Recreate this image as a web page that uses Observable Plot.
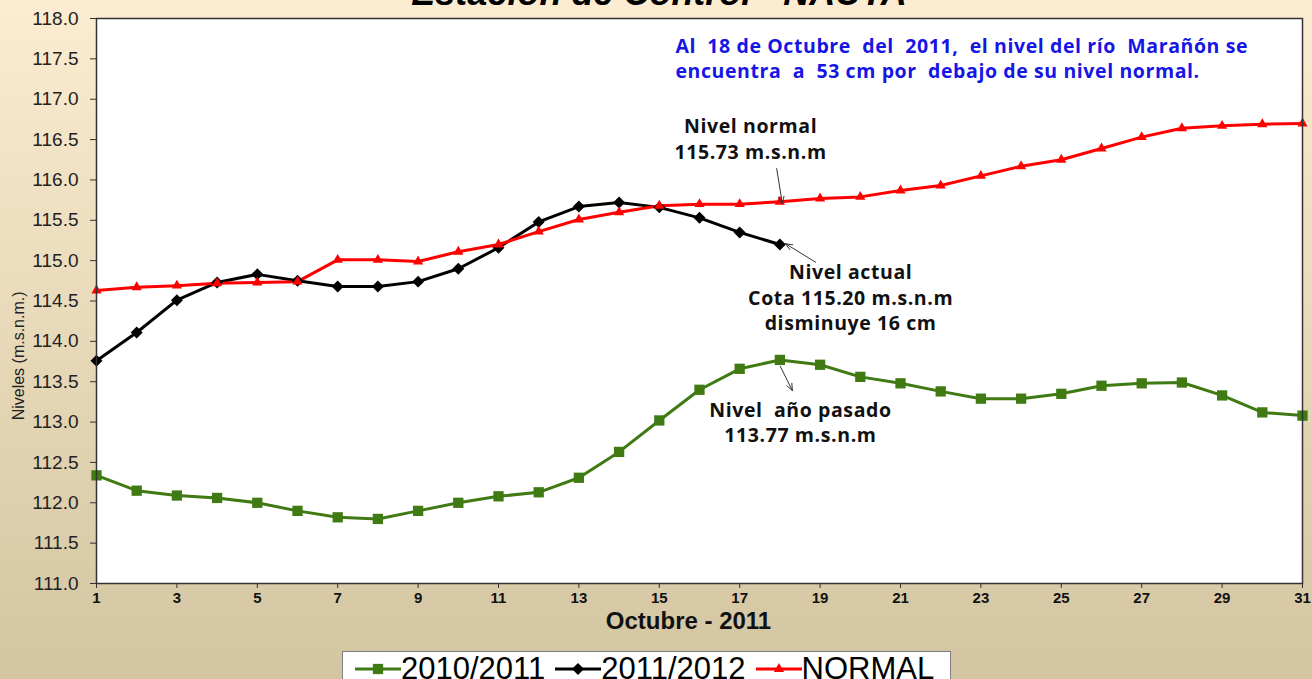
<!DOCTYPE html>
<html><head><meta charset="utf-8">
<script src="https://cdn.jsdelivr.net/npm/d3@7"></script>
<script src="https://cdn.jsdelivr.net/npm/@observablehq/plot@0.6"></script>
<style>
html,body{margin:0;padding:0;}
body{width:1312px;height:679px;overflow:hidden;position:relative;background:linear-gradient(#fcecd1,#d3c5a1);font-family:"Liberation Sans",Arial,sans-serif;}
#title{position:absolute;top:-25px;left:659px;transform:translateX(-50%);font:italic bold 36px "Liberation Sans",Arial,sans-serif;white-space:nowrap;color:#000;line-height:36px;}
#chart{position:absolute;left:0;top:0;}
#chart svg text{white-space:pre;}
.spaced text{letter-spacing:0.6px;}
#legend{position:absolute;left:342px;top:651px;width:609px;height:44px;background:#fff;border:1px solid #7f7f7f;box-sizing:border-box;display:flex;align-items:flex-start;padding-left:12px;font-size:31px;line-height:34px;color:#000;}
.item{display:flex;align-items:center;margin-right:10px;}
</style>
</head><body>
<div id="title">Estación de Control - NAUTA</div>
<div id="chart"></div>
<div id="legend"></div>
<script>
const days = d3.range(1, 32);
const serie2010 = [112.34,112.15,112.09,112.06,112.00,111.90,111.82,111.80,111.90,112.00,112.08,112.13,112.31,112.63,113.02,113.40,113.66,113.77,113.71,113.56,113.48,113.38,113.29,113.29,113.35,113.45,113.48,113.49,113.33,113.12,113.08];
const serie2011 = [113.76,114.11,114.51,114.73,114.83,114.75,114.68,114.68,114.74,114.90,115.16,115.48,115.67,115.72,115.66,115.53,115.35,115.20];
const normal = [114.63,114.67,114.69,114.72,114.73,114.74,115.01,115.01,114.99,115.11,115.20,115.36,115.51,115.60,115.68,115.70,115.70,115.73,115.77,115.79,115.87,115.93,116.05,116.17,116.25,116.39,116.53,116.64,116.67,116.69,116.70];
const seriesNames = ["2010/2011","2011/2012","NORMAL"];
const seriesColors = ["#3f7a12","#000000","#ff0000"];
const seriesSymbols = ["square","diamond2","triangle"];
const seriesValues = [serie2010, serie2011, normal];
const yTicks = d3.range(111, 118.001, 0.5);
const xTicks = d3.range(1, 32, 2);
const noteTexts = ["Nivel normal\n115.73 m.s.n.m", "Nivel actual\nCota 115.20 m.s.n.m\ndisminuye 16 cm", "Nivel  año pasado\n113.77 m.s.n.m"];
const noteDays = [17.27, 19.76, 18.51];
const noteValues = [116.52, 114.555, 113.006];
const arrowFrom = [[17.92,116.14],[18.89,114.98],[18.01,113.69]];
const arrowTo = [[18.06,115.71],[18.14,115.21],[18.31,113.39]];
const blueNote = "Al  18 de Octubre  del  2011,  el nivel del río  Marañón se\nencuentra  a  53 cm por  debajo de su nivel normal.";
const blueNoteDay = 15.40, blueNoteValue = 117.52;
const yTitleValue = 113.82;

const rows = seriesNames.flatMap((s, i) => seriesValues[i].map((v, j) => ({day: days[j], value: v, serie: s})));
const notes = noteTexts.map((t, i) => ({text: t, day: noteDays[i], value: noteValues[i]}));
const arrows = arrowFrom.map((a, i) => ({x1: a[0], y1: a[1], x2: arrowTo[i][0], y2: arrowTo[i][1]}));
const dotR = [5.8, 5.4, 3.8];

const chart = Plot.plot({
  width: 1312, height: 640,
  marginLeft: 96, marginRight: 10, marginTop: 18, marginBottom: 57,
  style: {background: "transparent", color: "#222", fontFamily: "'Liberation Sans', Arial, sans-serif"},
  x: {domain: [1, 31]},
  y: {domain: [111, 118]},
  color: {domain: seriesNames, range: seriesColors},
  symbol: {domain: seriesNames, range: seriesSymbols},
  marks: [
    Plot.frame({fill: "white", stroke: null}),
    Plot.axisY(yTicks, {tickSize: 6, tickPadding: 12, tickFormat: d3.format(".1f"), fontSize: 19, label: null, stroke: "#333"}),
    Plot.axisX(xTicks, {tickSize: 5, tickPadding: 4, fontSize: 15, fontWeight: "bold", label: null, stroke: "#333", fill: "#111"}),
    ...seriesNames.map((s, i) => Plot.line(rows.filter(d => d.serie === s), {x: "day", y: "value", stroke: "serie", strokeWidth: 3})),
    ...seriesNames.map((s, i) => Plot.dot(rows.filter(d => d.serie === s), {x: "day", y: "value", fill: "serie", symbol: "serie", r: dotR[i], stroke: null})),
    Plot.frame({stroke: "#333", strokeWidth: 1.5}),
    Plot.arrow(arrows, {x1: "x1", y1: "y1", x2: "x2", y2: "y2", stroke: "#333", strokeWidth: 1, headLength: 11, headAngle: 45}),
    Plot.text(notes, {x: "day", y: "value", text: "text", fontSize: 19.5, fontWeight: "bold", fontFamily: "Open Sans", lineHeight: 1.3, fill: "#111", className: "spaced"}),
    Plot.text([blueNote], {x: () => blueNoteDay, y: () => blueNoteValue, text: d => d, textAnchor: "start", fontSize: 19.5, fontWeight: "bold", fontFamily: "Open Sans", lineHeight: 1.28, fill: "#1515e6", className: "spaced"}),
    Plot.text(["Niveles (m.s.n.m.)"], {y: () => yTitleValue, frameAnchor: "left", textAnchor: "middle", dx: -78, rotate: -90, fontSize: 16, fill: "#222"}),
    Plot.text(["Octubre - 2011"], {frameAnchor: "bottom", dy: 45, dx: -11, fontSize: 24, fontWeight: "bold", fill: "#111"})
  ]
});
document.getElementById("chart").appendChild(chart);

const legend = d3.select("#legend");
const symMap = {square: d3.symbolSquare, diamond2: d3.symbolDiamond2, triangle: d3.symbolTriangle};
seriesNames.forEach((s, i) => {
  const item = legend.append("div").attr("class", "item");
  const sw = item.append("svg").attr("width", 46).attr("height", 34);
  sw.append("line").attr("x1", 0).attr("x2", 46).attr("y1", 17).attr("y2", 17).attr("stroke", seriesColors[i]).attr("stroke-width", 3);
  sw.append("path").attr("transform", "translate(23,17)").attr("d", d3.symbol(symMap[seriesSymbols[i]], Math.PI * dotR[i] * dotR[i])()).attr("fill", seriesColors[i]);
  item.append("span").text(s);
});
</script>
</body></html>
